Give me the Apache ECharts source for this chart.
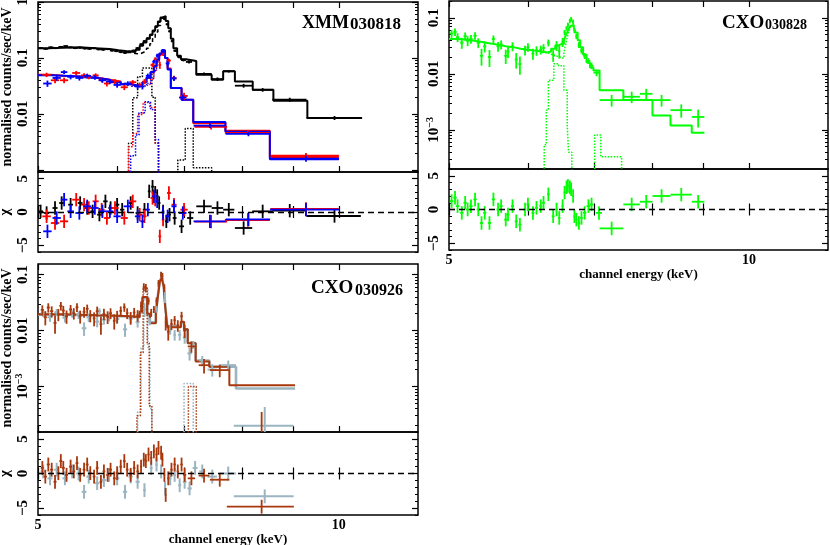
<!DOCTYPE html>
<html><head><meta charset="utf-8">
<script src="https://cdn.jsdelivr.net/npm/echarts@6/dist/echarts.min.js"></script>
<style>html,body{margin:0;padding:0;background:#fff}#c{width:830px;height:545px}</style>
</head><body><div id="c"></div>
<script>
// ================= DATA =================
// axis ticks / labels
const xTickValues = [5, 6, 7, 8, 9, 10];
const xLabelValues = [5, 10];
const minorMantissas = [2, 3, 4, 5, 6, 7, 8, 9];
const decades = [1e-4, 1e-3, 1e-2, 1e-1];
const yMajor1 = [0.001, 0.01, 0.1, 1];
const yLabels1 = [0.01, 0.1, 1];
const yMajor23 = [0.001, 0.01, 0.1];
const yLabels23 = [0.001, 0.01, 0.1];
const residMajor = [-5, 0, 5];
const residMinor = [-6, -4, -3, -2, -1, 1, 2, 3, 4, 6];
const residLabels = [-5, 0, 5];

// ---- XMM 030818 : [E keV, half width, counts/s/keV, error] ----
const pnData = [
 [5.03,0.03,0.150,0.006],[5.09,0.03,0.146,0.006],[5.15,0.03,0.155,0.006],[5.21,0.03,0.150,0.006],
 [5.27,0.03,0.158,0.006],[5.33,0.03,0.163,0.006],[5.39,0.03,0.155,0.006],[5.45,0.03,0.150,0.006],
 [5.51,0.03,0.153,0.006],[5.57,0.03,0.148,0.006],[5.63,0.03,0.146,0.006],[5.69,0.03,0.150,0.006],
 [5.75,0.03,0.143,0.006],[5.81,0.03,0.141,0.006],[5.87,0.03,0.144,0.006],[5.93,0.03,0.136,0.006],
 [5.99,0.03,0.133,0.006],[6.05,0.03,0.128,0.006],[6.11,0.03,0.124,0.006],[6.17,0.03,0.130,0.006],
 [6.23,0.03,0.135,0.006],[6.29,0.03,0.150,0.007],[6.34,0.025,0.175,0.008],[6.39,0.025,0.200,0.008],
 [6.44,0.025,0.225,0.009],[6.49,0.025,0.260,0.010],[6.53,0.02,0.300,0.012],[6.57,0.02,0.360,0.014],
 [6.61,0.02,0.440,0.016],[6.65,0.02,0.520,0.020],[6.69,0.02,0.500,0.020],[6.73,0.02,0.400,0.016],
 [6.77,0.02,0.300,0.012],[6.81,0.02,0.200,0.009],[6.86,0.03,0.135,0.007],[6.92,0.03,0.105,0.006],
 [6.99,0.04,0.092,0.005],[7.08,0.05,0.085,0.005],[7.33,0.13,0.052,0.003],[7.56,0.10,0.042,0.003],
 [7.76,0.10,0.058,0.003],[8.03,0.16,0.032,0.0025],[8.39,0.20,0.027,0.002],[8.93,0.35,0.018,0.0015],
 [9.90,0.62,0.0085,0.0007]
];
const pnModel = [[5.0,0.150],[5.12,0.152],[5.3,0.155],[5.5,0.150],[5.7,0.145],[5.9,0.138],[6.02,0.132],
 [6.14,0.128],[6.26,0.140],[6.32,0.165],[6.37,0.190],[6.42,0.220],[6.47,0.260],[6.51,0.310],[6.55,0.370],
 [6.59,0.450],[6.63,0.530],[6.67,0.560],[6.71,0.460],[6.75,0.340],[6.79,0.220],[6.83,0.150],[6.89,0.110],
 [6.95,0.095],[7.03,0.088],[7.2,0.050],[7.46,0.041],[7.66,0.058],[7.87,0.038],[8.2,0.027],[8.6,0.0173],
 [9.3,0.0085],[10.55,0.0085]];
const pnContinuum = [[6.14,0.125],[6.2,0.120],[6.26,0.118],[6.32,0.125],[6.37,0.135],[6.42,0.150],
 [6.47,0.180],[6.51,0.220],[6.55,0.290],[6.59,0.380],[6.63,0.500],[6.67,0.550]];
const pnFeKalpha = [[6.1,1e-6],[6.16,0.003],[6.22,0.0195],[6.29,0.046],[6.36,0.066],[6.5,0.020],[6.55,0.003],[6.6,1e-6],[6.7,1e-6]];
const pnFeKbeta = [[6.8,1e-6],[6.9,0.0015],[7.02,0.0055],[7.15,0.0011],[7.46,1e-6],[7.6,1e-6]];

const mos1Data = [
 [5.10,0.05,0.050,0.0045],[5.20,0.05,0.040,0.0045],[5.31,0.05,0.040,0.0045],[5.46,0.05,0.054,0.0045],
 [5.56,0.04,0.049,0.0045],[5.62,0.03,0.046,0.0043],[5.71,0.04,0.049,0.0042],[5.79,0.04,0.041,0.0040],
 [5.86,0.04,0.035,0.0040],[5.97,0.05,0.038,0.0036],[6.10,0.05,0.030,0.0033],[6.22,0.05,0.037,0.0033],
 [6.32,0.04,0.033,0.0034],[6.39,0.03,0.038,0.0040],[6.51,0.03,0.075,0.006],[6.55,0.02,0.095,0.008],
 [6.62,0.02,0.075,0.011],[6.67,0.02,0.120,0.012],[6.76,0.03,0.090,0.007],[6.84,0.04,0.044,0.004],
 [7.00,0.06,0.021,0.003],[7.45,0.28,0.0059,0.0006],[8.11,0.42,0.0046,0.0004],[9.27,0.73,0.0018,0.0002]
];
const mos1Model = [[5.0,0.050],[5.15,0.048],[5.3,0.047],[5.45,0.046],[5.6,0.044],[5.75,0.041],[5.9,0.038],
 [6.05,0.034],[6.2,0.032],[6.3,0.033],[6.36,0.037],[6.42,0.044],[6.48,0.055],[6.53,0.070],[6.57,0.090],
 [6.61,0.115],[6.65,0.135],[6.7,0.100],[6.74,0.065],[6.79,0.029],[6.96,0.018],[7.15,0.0068],[7.7,0.0050],
 [8.53,0.0017],[10.0,0.0017]];
const mos1Continuum = [[6.2,0.031],[6.3,0.031],[6.36,0.032],[6.42,0.034],[6.48,0.042],[6.53,0.058],[6.57,0.082],[6.61,0.110],[6.65,0.135]];
const mos1FeKalpha = [[6.1,1e-6],[6.16,0.0026],[6.22,0.0045],[6.29,0.0098],[6.37,0.016],[6.47,0.013],[6.55,0.003],[6.6,1e-6],[6.7,1e-6]];

const mos2Data = [
 [5.11,0.05,0.035,0.0045],[5.22,0.05,0.044,0.0045],[5.31,0.04,0.056,0.0045],[5.39,0.04,0.046,0.0045],
 [5.50,0.05,0.044,0.0045],[5.60,0.05,0.048,0.0044],[5.70,0.05,0.045,0.0042],[5.80,0.05,0.040,0.0040],
 [5.90,0.05,0.038,0.0038],[6.00,0.05,0.033,0.0035],[6.15,0.06,0.035,0.0033],[6.29,0.04,0.031,0.0033],
 [6.36,0.03,0.031,0.0036],[6.44,0.03,0.048,0.0046],[6.53,0.025,0.086,0.007],[6.58,0.02,0.110,0.009],
 [6.67,0.02,0.133,0.012],[6.74,0.03,0.080,0.008],[6.84,0.04,0.043,0.004],[6.98,0.06,0.0197,0.0025],
 [7.43,0.275,0.0062,0.0006],[8.12,0.415,0.0044,0.0004],[9.27,0.735,0.0016,0.0002]
];
const mos2Model = [[5.0,0.049],[5.15,0.048],[5.3,0.047],[5.45,0.045],[5.6,0.044],[5.75,0.041],[5.9,0.037],
 [6.05,0.034],[6.2,0.032],[6.3,0.033],[6.36,0.037],[6.42,0.045],[6.48,0.056],[6.53,0.072],[6.57,0.095],
 [6.61,0.120],[6.65,0.138],[6.7,0.100],[6.74,0.062],[6.79,0.029],[6.96,0.018],[7.15,0.0072],[7.7,0.0048],
 [8.53,0.00155],[10.0,0.00155]];
const mos2Continuum = [[6.2,0.031],[6.3,0.031],[6.36,0.032],[6.42,0.035],[6.48,0.043],[6.53,0.060],[6.57,0.085],[6.61,0.115],[6.65,0.138]];
const mos2FeKalpha = [[6.12,1e-6],[6.19,0.0018],[6.26,0.0042],[6.31,0.0105],[6.4,0.0165],[6.48,0.012],[6.55,0.0035],[6.6,1e-6],[6.7,1e-6]];

// residuals [E, half width, chi]
const pnResid = [[5.03,0.03,0.1],[5.1,0.03,-0.15],[5.2,0.03,0.6],[5.28,0.03,1.35],[5.39,0.03,1.1],[5.51,0.03,1.35],
 [5.6,0.03,0.6],[5.67,0.03,0.1],[5.76,0.03,-0.4],[5.84,0.03,1.6],[5.91,0.03,0.6],[6.0,0.03,1.1],[6.07,0.03,0.35],
 [6.19,0.03,1.35],[6.29,0.03,-0.15],[6.39,0.025,0.35],[6.46,0.02,3.1],[6.51,0.02,3.8],[6.55,0.02,2.9],
 [6.58,0.02,2.4],[6.61,0.02,1.35],[6.67,0.02,0.1],[6.72,0.02,-1.4],[6.77,0.02,-0.4],[6.85,0.03,-0.9],
 [6.96,0.04,-2.15],[7.1,0.05,-0.9],[7.33,0.13,0.85],[7.56,0.1,0.6],[7.76,0.1,0.35],[8.03,0.16,-2.4],
 [8.39,0.2,0.1],[8.93,0.35,0.2],[9.9,0.62,-0.6]];
const mos1Resid = [[5.1,0.05,-0.65],[5.2,0.05,-1.65],[5.31,0.05,-1.4],[5.46,0.05,1.85],[5.56,0.04,1.1],
 [5.62,0.03,0.6],[5.71,0.04,1.6],[5.79,0.04,0.35],[5.86,0.04,-0.9],[5.97,0.05,0.6],[6.1,0.05,-0.9],
 [6.22,0.05,1.6],[6.32,0.04,-0.4],[6.39,0.03,-0.65],[6.51,0.03,2.1],[6.55,0.02,1.85],[6.62,0.02,-3.65],
 [6.67,0.02,-1.15],[6.76,0.03,2.85],[6.84,0.04,1.1],[7.0,0.06,0.35],[7.45,0.28,-1.45],[8.11,0.42,-1.2],[9.27,0.73,0.45]];
const mos2Resid = [[5.11,0.05,-2.9],[5.22,0.05,-0.9],[5.31,0.04,1.85],[5.39,0.04,0.1],[5.5,0.05,-0.15],
 [5.6,0.05,0.85],[5.7,0.05,0.6],[5.8,0.05,0.1],[5.9,0.05,0.1],[6.0,0.05,-0.65],[6.15,0.06,0.85],
 [6.29,0.04,-0.65],[6.36,0.03,-1.4],[6.44,0.03,0.35],[6.53,0.025,2.35],[6.58,0.02,1.6],[6.67,0.02,-0.15],
 [6.74,0.03,-0.65],[6.84,0.04,0.85],[6.98,0.06,-0.15],[7.43,0.275,-1.4],[8.12,0.415,-1.1],[9.27,0.735,0.35]];

// ---- CXO 030828 (green) ----
const acisData = [
 [5.03,0.02,0.0525,0.0085],[5.07,0.02,0.056,0.0085],[5.10,0.02,0.045,0.0082],[5.15,0.02,0.036,0.008],
 [5.19,0.02,0.047,0.008],[5.22,0.02,0.039,0.0078],[5.26,0.02,0.042,0.0076],[5.31,0.02,0.048,0.0074],
 [5.35,0.02,0.036,0.0072],[5.39,0.02,0.021,0.007],[5.43,0.02,0.031,0.0069],[5.49,0.02,0.020,0.0067],
 [5.54,0.02,0.042,0.0065],[5.60,0.02,0.031,0.0062],[5.64,0.02,0.0335,0.0061],[5.70,0.02,0.021,0.006],
 [5.73,0.02,0.025,0.0059],[5.79,0.02,0.031,0.0057],[5.84,0.02,0.018,0.0056],[5.89,0.02,0.015,0.0054],
 [5.96,0.02,0.0265,0.0053],[6.00,0.02,0.030,0.0052],[6.07,0.02,0.023,0.0051],[6.12,0.02,0.026,0.005],
 [6.18,0.02,0.027,0.0049],[6.22,0.02,0.029,0.0048],[6.29,0.02,0.036,0.005],[6.36,0.02,0.022,0.0056],
 [6.41,0.02,0.032,0.0064],[6.45,0.015,0.0255,0.0068],[6.50,0.015,0.037,0.0068],[6.53,0.015,0.055,0.006],
 [6.56,0.015,0.065,0.006],[6.58,0.015,0.075,0.007],[6.61,0.015,0.088,0.008],[6.63,0.015,0.095,0.009],
 [6.66,0.015,0.085,0.008],[6.68,0.015,0.060,0.007],[6.71,0.015,0.047,0.005],[6.75,0.02,0.033,0.004],
 [6.79,0.02,0.026,0.003],[6.84,0.025,0.021,0.0026],[6.90,0.03,0.017,0.002],[6.95,0.03,0.014,0.0018],
 [7.03,0.05,0.0105,0.0014],[7.28,0.20,0.0034,0.0008],[7.625,0.145,0.0039,0.0009],[7.885,0.115,0.0044,0.001],
 [8.17,0.17,0.0034,0.0008],[8.55,0.21,0.00225,0.0006],[8.89,0.13,0.0017,0.0006]
];
const acisModel = [[5.0,0.042],[5.1,0.041],[5.2,0.039],[5.3,0.037],[5.4,0.035],[5.5,0.033],[5.6,0.031],
 [5.7,0.030],[5.8,0.028],[5.9,0.027],[6.0,0.026],[6.1,0.025],[6.2,0.024],[6.27,0.025],[6.33,0.028],
 [6.39,0.032],[6.43,0.034],[6.48,0.034],[6.52,0.040],[6.545,0.048],[6.57,0.055],[6.595,0.065],[6.62,0.072],
 [6.645,0.075],[6.67,0.068],[6.695,0.055],[6.73,0.040],[6.77,0.030],[6.815,0.022],[6.87,0.016],[6.925,0.013],
 [6.98,0.0115],[7.08,0.0051],[7.48,0.0034],[8.0,0.0018],[8.34,0.0012],[8.76,0.00089],[9.02,0.00089]];
const acisContinuum = [[6.2,0.024],[6.27,0.0225],[6.33,0.021],[6.39,0.0205],[6.43,0.0195],[6.48,0.019],
 [6.52,0.024],[6.545,0.033],[6.57,0.045],[6.595,0.058],[6.62,0.068],[6.645,0.074],[6.67,0.068]];
const acisFeKalpha = [[6.15,1e-6],[6.23,0.00054],[6.26,0.00225],[6.29,0.0077],[6.37,0.0152],[6.44,0.014],[6.52,0.0051],[6.57,0.0012],[6.59,0.0004],[6.64,1e-6],[6.7,1e-6]];
const acisFeKbeta = [[6.9,1e-6],[7.0,0.00081],[7.1,0.00033],[7.45,1e-6],[7.6,1e-6]];
const acisResid = [[5.03,0.02,1.25],[5.07,0.02,1.75],[5.10,0.02,0.5],[5.15,0.02,-0.5],[5.19,0.02,1.0],
 [5.22,0.02,0],[5.26,0.02,0.5],[5.31,0.02,1.5],[5.35,0.02,0],[5.39,0.02,-2.0],[5.43,0.02,-0.5],[5.49,0.02,-2.0],
 [5.54,0.02,1.5],[5.60,0.02,0],[5.64,0.02,0.5],[5.70,0.02,-1.5],[5.73,0.02,-0.75],[5.79,0.02,0.5],
 [5.84,0.02,-1.75],[5.89,0.02,-2.25],[5.96,0.02,0],[6.00,0.02,0.75],[6.07,0.02,-0.5],[6.12,0.02,0.25],
 [6.18,0.02,0.5],[6.22,0.02,1.0],[6.29,0.02,2.25],[6.36,0.02,-1.0],[6.41,0.02,0],[6.45,0.015,-1.25],
 [6.50,0.015,0.5],[6.53,0.015,2.5],[6.56,0.015,3.3],[6.58,0.015,3.5],[6.61,0.015,3.3],[6.63,0.015,3.0],
 [6.66,0.015,2.0],[6.68,0.015,-1.0],[6.71,0.015,-1.5],[6.75,0.02,-2.0],[6.79,0.02,-1.25],[6.84,0.025,-0.5],
 [6.90,0.03,0.5],[6.95,0.03,0.75],[7.07,0.05,-0.5],[7.28,0.20,-2.8],[7.625,0.145,0.75],[7.885,0.115,1.15],
 [8.17,0.17,2.0],[8.55,0.21,2.2],[8.89,0.13,1.15]];

// ---- CXO 030926 (brown / grey) ----
const brownData = [
 [5.05,0.018,0.0234,0.0049],[5.085,0.018,0.0173,0.0049],[5.12,0.018,0.0258,0.0049],[5.16,0.018,0.0222,0.0049],
 [5.20,0.018,0.0137,0.0049],[5.24,0.018,0.0195,0.0048],[5.27,0.018,0.0276,0.0048],[5.30,0.018,0.0228,0.0048],
 [5.34,0.018,0.018,0.0048],[5.39,0.018,0.0238,0.0048],[5.43,0.018,0.0204,0.0047],[5.47,0.018,0.0261,0.0047],
 [5.51,0.018,0.018,0.0047],[5.56,0.018,0.0216,0.0047],[5.60,0.018,0.0245,0.0046],[5.64,0.018,0.0186,0.0046],
 [5.69,0.018,0.0165,0.0046],[5.73,0.018,0.0222,0.0046],[5.78,0.018,0.013,0.0046],[5.82,0.018,0.0199,0.0046],
 [5.87,0.018,0.0176,0.0045],[5.91,0.018,0.0205,0.0045],[5.96,0.018,0.0149,0.0045],[6.00,0.018,0.018,0.0045],
 [6.05,0.018,0.0225,0.0045],[6.10,0.018,0.0261,0.0045],[6.14,0.018,0.0205,0.0045],[6.19,0.018,0.0171,0.0044],
 [6.24,0.018,0.021,0.0044],[6.29,0.018,0.0188,0.0044],[6.34,0.015,0.0275,0.0055],[6.38,0.015,0.060,0.010],
 [6.41,0.015,0.058,0.010],[6.45,0.015,0.034,0.005],[6.49,0.015,0.021,0.0034],[6.53,0.015,0.024,0.0034],
 [6.57,0.015,0.034,0.005],[6.60,0.012,0.070,0.010],[6.64,0.012,0.100,0.012],[6.66,0.012,0.095,0.012],
 [6.69,0.012,0.058,0.009],[6.71,0.012,0.014,0.004],[6.75,0.018,0.0095,0.0029],[6.80,0.018,0.0131,0.0029],
 [6.85,0.018,0.0153,0.0029],[6.90,0.018,0.0124,0.0029],[6.96,0.02,0.018,0.0036],[7.01,0.025,0.010,0.0026],
 [7.12,0.06,0.0052,0.0012],[7.33,0.09,0.0024,0.0007],[7.60,0.17,0.00196,0.0005],[8.37,0.645,0.0001,0.00025]
];
const brownModel = [[5.0,0.0195],[5.3,0.019],[5.6,0.0185],[5.9,0.018],[6.2,0.0175],[6.32,0.022],[6.36,0.040],
 [6.43,0.020],[6.47,0.0135],[6.56,0.020],[6.59,0.040],[6.62,0.075],[6.65,0.088],[6.68,0.060],[6.705,0.025],
 [6.735,0.0115],[6.95,0.0144],[7.0,0.0105],[7.06,0.0059],[7.19,0.0028],[7.42,0.00225],[7.77,0.00105],[9.04,0.00105]];
const brownFeKalpha = [[6.2,1e-6],[6.28,0.0003],[6.33,0.004],[6.37,0.058],[6.43,0.006],[6.46,0.00045],[6.5,1e-6],[6.6,1e-6]];
const brownFeKbeta = [[6.9,1e-6],[7.07,0.0010],[7.2,1e-6],[7.3,1e-6]];
const brownResid = [[5.05,0.018,0.8],[5.085,0.018,-0.45],[5.12,0.018,1.3],[5.16,0.018,0.55],[5.20,0.018,-1.2],
 [5.24,0.018,0.05],[5.27,0.018,1.8],[5.30,0.018,0.8],[5.34,0.018,-0.2],[5.39,0.018,1.0],[5.43,0.018,0.3],
 [5.47,0.018,1.5],[5.51,0.018,-0.2],[5.56,0.018,0.55],[5.60,0.018,1.3],[5.64,0.018,0.05],[5.69,0.018,-0.45],
 [5.73,0.018,0.8],[5.78,0.018,-1.2],[5.82,0.018,0.3],[5.87,0.018,-0.2],[5.91,0.018,0.55],[5.96,0.018,-0.7],
 [6.00,0.018,0.05],[6.05,0.018,1.0],[6.10,0.018,1.8],[6.14,0.018,0.55],[6.19,0.018,-0.2],[6.24,0.018,0.8],
 [6.29,0.018,0.3],[6.34,0.015,1.0],[6.38,0.015,2.0],[6.41,0.015,1.8],[6.45,0.015,2.75],[6.49,0.015,2.25],
 [6.53,0.015,3.2],[6.57,0.015,2.75],[6.60,0.012,3.7],[6.64,0.012,3.0],[6.66,0.012,2.0],[6.69,0.012,-0.2],
 [6.71,0.012,-3.1],[6.75,0.018,-0.7],[6.80,0.018,0.55],[6.85,0.018,1.3],[6.90,0.018,0.3],[6.96,0.02,1.3],
 [7.01,0.025,-0.2],[7.12,0.06,-0.7],[7.33,0.09,-0.3],[7.60,0.17,-0.9],[8.37,0.645,-4.8]];

const greyData = [
 [5.06,0.03,0.0204,0.003],[5.14,0.03,0.0173,0.003],[5.22,0.03,0.0212,0.003],[5.32,0.03,0.0169,0.003],
 [5.41,0.03,0.0199,0.003],[5.49,0.03,0.019,0.003],[5.56,0.03,0.011,0.003],[5.62,0.03,0.0172,0.003],
 [5.73,0.03,0.0144,0.003],[5.76,0.02,0.022,0.003],[5.82,0.03,0.0157,0.0029],[5.89,0.03,0.0174,0.0029],
 [6.00,0.03,0.016,0.0029],[6.11,0.03,0.0105,0.0028],[6.19,0.03,0.0163,0.0028],[6.29,0.03,0.0141,0.0028],
 [6.39,0.02,0.024,0.0065],[6.47,0.02,0.0147,0.0022],[6.57,0.02,0.024,0.0032],[6.64,0.015,0.100,0.013],
 [6.70,0.015,0.040,0.009],[6.78,0.02,0.0102,0.0018],[6.85,0.02,0.0084,0.0018],[6.93,0.025,0.0084,0.0018],
 [7.01,0.03,0.0075,0.0017],[7.09,0.035,0.0039,0.001],[7.15,0.03,0.0056,0.0009],[7.30,0.05,0.0029,0.0006],
 [7.47,0.08,0.0020,0.0005],[7.75,0.14,0.0024,0.0005],[8.43,0.58,0.000197,0.00023]
];
const greyModel = [[5.0,0.0192],[5.3,0.0188],[5.6,0.0183],[5.9,0.0178],[6.2,0.0173],[6.32,0.021],[6.36,0.038],
 [6.43,0.019],[6.47,0.014],[6.56,0.021],[6.59,0.042],[6.62,0.078],[6.65,0.090],[6.68,0.062],[6.705,0.026],
 [6.735,0.012],[6.95,0.014],[7.0,0.0105],[7.06,0.006],[7.19,0.0029],[7.42,0.00225],[7.89,0.00092],[9.04,0.00092]];
const greyFeKalpha = [[6.2,1e-6],[6.29,0.00035],[6.34,0.005],[6.38,0.055],[6.44,0.005],[6.47,0.0004],[6.5,1e-6],[6.6,1e-6]];
const greyFeKbeta = [[6.9,1e-6],[7.0,0.00113],[7.15,1e-6],[7.3,1e-6]];
const greyResid = [[5.06,0.03,0.3],[5.14,0.03,-0.7],[5.22,0.03,0.55],[5.32,0.03,-0.7],[5.41,0.03,0.3],
 [5.49,0.03,0.0],[5.56,0.03,-2.65],[5.62,0.03,-0.45],[5.73,0.03,-1.4],[5.82,0.03,-0.95],[5.89,0.03,-0.2],
 [6.00,0.03,-0.7],[6.11,0.03,-2.65],[6.19,0.03,-0.45],[6.29,0.03,-1.2],[6.39,0.02,-2.4],[6.49,0.02,0.8],
 [6.57,0.02,1.3],[6.64,0.015,0.3],[6.70,0.015,-2.15],[6.78,0.02,-0.7],[6.85,0.02,-0.2],[6.93,0.025,-1.7],
 [7.01,0.03,-1.2],[7.09,0.035,-2.15],[7.18,0.04,0.8],[7.30,0.05,0.3],[7.47,0.08,-0.45],[7.75,0.14,0.0],[8.43,0.58,-3.3]];

// ================= CHART =================
const FONT = '"Liberation Serif", "DejaVu Serif", serif';
const C = {black:'#000000', red:'#ff0000', blue:'#0000ff', green:'#00ff00', brown:'#a8380c', grey:'#9bb5c0'};

const minorLog = [];
decades.forEach(d => minorMantissas.forEach(m => minorLog.push(+(m * d).toPrecision(3))));

const gridDefs = [
  {left:38, top:2, width:380, height:170},
  {left:38, top:172, width:380, height:80},
  {left:449, top:1, width:379, height:168},
  {left:449, top:169, width:379, height:81},
  {left:38, top:264, width:380, height:168},
  {left:38, top:432, width:380, height:83}
];
const yDefs = [
  {log:true, min:0.00092, max:1, major:yMajor1, labels:yLabels1, name:'normalised counts/sec/keV'},
  {log:false, min:-6, max:6, major:residMajor, labels:residLabels, name:'\u03c7'},
  {log:true, min:0.0002, max:0.2, major:yMajor23, labels:yLabels23, name:''},
  {log:false, min:-6, max:6, major:residMajor, labels:residLabels, name:''},
  {log:true, min:0.000153, max:0.155, major:yMajor23, labels:yLabels23, name:'normalised counts/sec/keV'},
  {log:false, min:-6, max:6, major:residMajor, labels:residLabels, name:'\u03c7'}
];
const xLabeled = [false, false, false, true, false, true];

function logLabel(v) {
  const p = Math.round(Math.log10(v));
  if (p === 0) return '1';
  if (p === -1) return '0.1';
  if (p === -2) return '0.01';
  return '{m|10}{e|\u2212' + (-p) + '}';
}

const xAxes = [], yAxes = [];
gridDefs.forEach((g, i) => {
  ['bottom', 'top'].forEach(pos => {
    const lab = pos === 'bottom' && xLabeled[i];
    xAxes.push({
      type:'log', gridIndex:i, min:5, max:12, position:pos,
      axisLine:{show:false}, splitLine:{show:false},
      axisTick:{show:true, inside:true, length:6, customValues:xTickValues, lineStyle:{color:'#000', width:1.2}},
      axisLabel:{show:lab, customValues:xLabelValues, margin:3, color:'#000', fontFamily:FONT, fontWeight:'bold', fontSize:14},
      name: lab ? 'channel energy (keV)' : '', nameLocation:'middle', nameGap:17,
      nameTextStyle:{color:'#000', fontFamily:FONT, fontWeight:'bold', fontSize:13}
    });
  });
  const d = yDefs[i];
  ['left', 'right'].forEach(pos => {
    const isLeft = pos === 'left';
    yAxes.push({
      type: d.log ? 'log' : 'value', gridIndex:i, min:d.min, max:d.max, position:pos, offset:0,
      axisLine:{show:false}, splitLine:{show:false},
      axisTick:{show:true, inside:true, length:6, customValues:d.major, lineStyle:{color:'#000', width:1.2}},
      axisLabel:{show:isLeft, customValues:d.labels, rotate:90, margin:7, color:'#000',
        align:'center', verticalAlign:'bottom', hideOverlap:false,
        fontFamily:FONT, fontWeight:'bold', fontSize:15,
        formatter: d.log ? logLabel : (v => (v < 0 ? '\u2212' + (-v) : String(v))),
        rich:{m:{fontFamily:FONT, fontWeight:'bold', fontSize:15, verticalAlign:'bottom', lineHeight:17},
              e:{fontFamily:FONT, fontWeight:'bold', fontSize:10, verticalAlign:'top', lineHeight:10}}},
      name: isLeft ? d.name : '', nameLocation:'middle', nameRotate:90, nameGap: d.log ? 24 : 25,
      nameMoveOverlap:false,
      nameTextStyle:{color:'#000', fontFamily:FONT, fontWeight:'bold', fontSize: d.log ? 14 : 15}
    });
    yAxes.push({
      type: d.log ? 'log' : 'value', gridIndex:i, min:d.min, max:d.max, position:pos, offset:0,
      axisLine:{show:false}, splitLine:{show:false}, axisLabel:{show:false},
      axisTick:{show:true, inside:true, length:3, customValues: d.log ? minorLog : residMinor, lineStyle:{color:'#000', width:1}}
    });
  });
});

function crossRender(color, lw) {
  return function (params, api) {
    const a = api.coord([api.value(1), api.value(3)]);
    const b = api.coord([api.value(2), api.value(3)]);
    const c = api.coord([api.value(0), api.value(4)]);
    const d = api.coord([api.value(0), api.value(5)]);
    return {type:'group', children:[
      {type:'line', shape:{x1:a[0], y1:a[1], x2:b[0], y2:b[1]}, style:{stroke:color, lineWidth:lw}},
      {type:'line', shape:{x1:c[0], y1:c[1], x2:d[0], y2:d[1]}, style:{stroke:color, lineWidth:lw}}
    ]};
  };
}
function crossSeries(grid, arr, color, lw, isResid) {
  const data = arr.map(r => isResid
    ? [r[0], r[0] - r[1], r[0] + r[1], r[2], r[2] - 1, r[2] + 1]
    : [r[0], r[0] - r[1], r[0] + r[1], r[2], Math.max(r[2] - r[3], 1e-8), r[2] + r[3]]);
  return {type:'custom', xAxisIndex:2 * grid, yAxisIndex:4 * grid, data:data, clip:true, silent:true,
    encode:{x:[0, 1, 2], y:[3, 4, 5]}, renderItem:crossRender(color, lw), z:3};
}
function stepSeries(grid, arr, color, lw, type) {
  return {type:'line', xAxisIndex:2 * grid, yAxisIndex:4 * grid, data:arr, step:'end', showSymbol:false,
    symbol:'none', clip:true, silent:true, lineStyle:{color:color, width:lw, type:type || 'solid'}, z:2};
}
function zeroLine(series) {
  series.markLine = {silent:true, symbol:'none', label:{show:false}, animation:false,
    lineStyle:{color:'#000', width:1.4, type:[6, 4]}, data:[{yAxis:0}]};
  return series;
}

const series = [
  stepSeries(0, pnModel, C.black, 2),
  stepSeries(0, pnContinuum, C.black, 1.5, [4, 3]),
  stepSeries(0, pnFeKalpha, C.black, 1.5, 'dotted'),
  stepSeries(0, pnFeKbeta, C.black, 1.5, 'dotted'),
  crossSeries(0, pnData, C.black, 1.8),
  stepSeries(0, mos1Model, C.red, 2),
  stepSeries(0, mos1Continuum, C.red, 1.3, 'dotted'),
  stepSeries(0, mos1FeKalpha, C.red, 1.5, 'dotted'),
  crossSeries(0, mos1Data, C.red, 1.8),
  stepSeries(0, mos2Model, C.blue, 2),
  stepSeries(0, mos2Continuum, C.blue, 1.3, 'dotted'),
  stepSeries(0, mos2FeKalpha, C.blue, 1.5, 'dotted'),
  crossSeries(0, mos2Data, C.blue, 1.8),
  zeroLine(crossSeries(1, pnResid, C.black, 1.8, true)),
  crossSeries(1, mos1Resid, C.red, 1.8, true),
  crossSeries(1, mos2Resid, C.blue, 1.8, true),
  stepSeries(2, acisModel, C.green, 2),
  stepSeries(2, acisContinuum, C.green, 1.5, 'dotted'),
  stepSeries(2, acisFeKalpha, C.green, 1.5, 'dotted'),
  stepSeries(2, acisFeKbeta, C.green, 1.5, 'dotted'),
  crossSeries(2, acisData, C.green, 1.8),
  zeroLine(crossSeries(3, acisResid, C.green, 1.8, true)),
  stepSeries(4, greyModel, C.grey, 2.6),
  stepSeries(4, greyFeKalpha, C.grey, 1.6, 'dotted'),
  stepSeries(4, greyFeKbeta, C.grey, 1.6, 'dotted'),
  crossSeries(4, greyData, C.grey, 2),
  stepSeries(4, brownModel, C.brown, 2),
  stepSeries(4, brownFeKalpha, C.brown, 1.5, 'dotted'),
  stepSeries(4, brownFeKbeta, C.brown, 1.5, 'dotted'),
  crossSeries(4, brownData, C.brown, 1.8),
  zeroLine(crossSeries(5, greyResid, C.grey, 2, true)),
  crossSeries(5, brownResid, C.brown, 1.8, true)
];

const titleFont = sz => 'bold ' + sz + 'px ' + FONT;
const graphic = [
  {type:'text', x:302, y:14, style:{text:'XMM', font:titleFont(18), fill:'#000'}, z:10},
  {type:'text', x:350, y:16, style:{text:'030818', font:titleFont(17), fill:'#000'}, z:10},
  {type:'text', x:722, y:14, style:{text:'CXO', font:titleFont(19), fill:'#000'}, z:10},
  {type:'text', x:765, y:18, style:{text:'030828', font:titleFont(14), fill:'#000'}, z:10},
  {type:'text', x:311, y:279, style:{text:'CXO', font:titleFont(19), fill:'#000'}, z:10},
  {type:'text', x:355, y:283, style:{text:'030926', font:titleFont(16), fill:'#000'}, z:10}
];

const chart = echarts.init(document.getElementById('c'), null, {renderer:'canvas'});
chart.setOption({
  animation:false,
  backgroundColor:'#ffffff',
  grid: gridDefs.map(g => Object.assign({show:true, borderColor:'#000', borderWidth:1.5, backgroundColor:'transparent', outerBoundsMode:'none', containLabel:false}, g)),
  xAxis: xAxes,
  yAxis: yAxes,
  series: series,
  graphic: graphic
});
</script></body></html>
